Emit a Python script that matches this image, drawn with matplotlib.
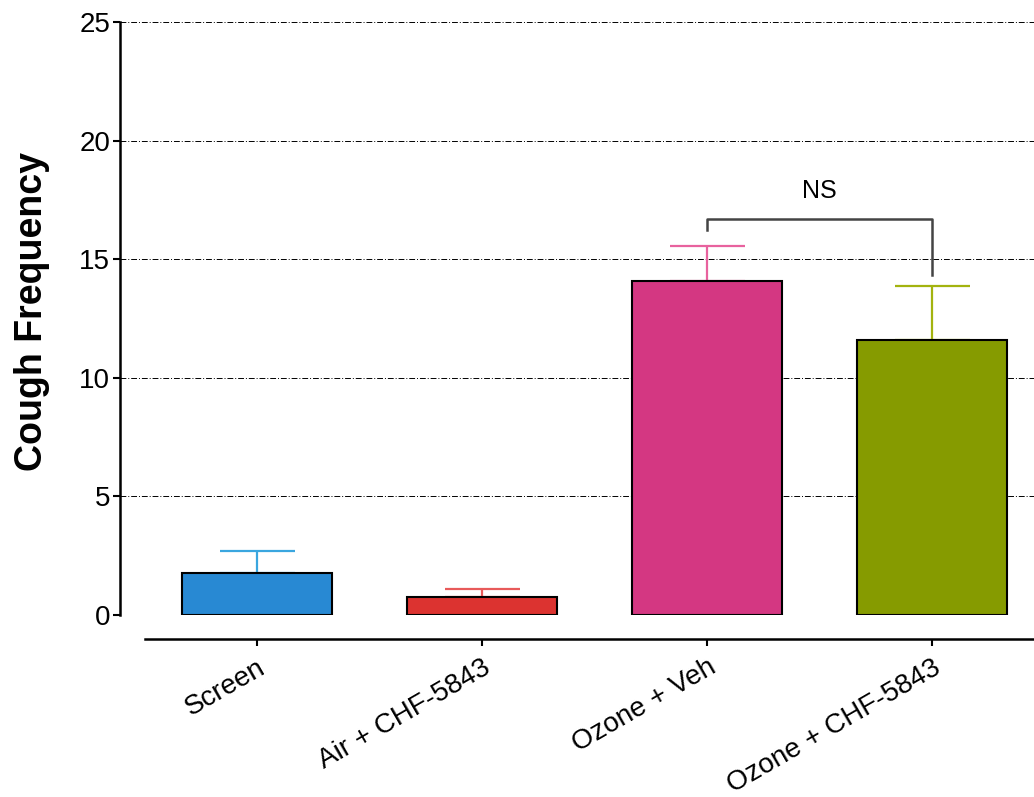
import matplotlib
matplotlib.use("Agg")
import matplotlib.pyplot as plt

categories = ["Screen", "Air + CHF-5843", "Ozone + Veh", "Ozone + CHF-5843"]
means = [1.75, 0.75, 14.1, 11.6]
errors = [0.95, 0.35, 1.45, 2.25]
bar_colors = ["#2889d3", "#dc3330", "#d43782", "#869b00"]
err_colors = ["#3aa6df", "#e85a5a", "#e8629e", "#a3b30f"]
yticks = [0, 5, 10, 15, 20, 25]
ns_label = "NS"
ns_pair = (2, 3)
ns_levels = (16.7, 16.25, 14.35)

plt.rcParams['font.family'] = ['Liberation Sans', 'DejaVu Sans']

fig = plt.figure(figsize=(10.34, 7.97), dpi=100)
ax = fig.add_axes([120/1034, (797-615)/797, (1034-120)/1034, (615-22)/797])

for s in ["top", "right"]:
    ax.spines[s].set_visible(False)
ax.spines["left"].set_linewidth(1.8)
ax.spines["bottom"].set_linewidth(1.8)
ax.spines["bottom"].set_position(("outward", 17.5))

x = list(range(len(categories)))
ax.bar(x, means, width=0.667, color=bar_colors, edgecolor="black", linewidth=1.5, zorder=3)
for xi, m, e, c in zip(x, means, errors, err_colors):
    ax.errorbar(xi, m, yerr=[[0], [e]], fmt="none", ecolor=c, elinewidth=1.6,
                capsize=27, capthick=1.6, zorder=2)

for yt in yticks:
    ax.axhline(yt, color="black", linestyle=(0, (6, 2, 1, 2)), linewidth=0.7, zorder=1)

ax.set_xlim(-0.609, 3.453)
ax.set_ylim(0, 25)
ax.spines["bottom"].set_bounds(-0.5, 3.6)
ax.set_yticks(yticks)
ax.set_xticks(x)
ax.set_xticklabels(categories, rotation=30, ha="right", va="top", rotation_mode="anchor")
ax.tick_params(axis="both", labelsize=20, width=1.5, length=5, color="black")
ax.tick_params(axis="x", pad=6)
ax.tick_params(axis="y", pad=2)

ax.set_ylabel("Cough Frequency", fontsize=27, fontweight="bold")
ax.yaxis.set_label_coords(-0.0765, 0.512)

# significance bracket
a, b = ns_pair
top, left_end, right_end = ns_levels
ax.plot([a, a, b, b], [left_end, top, top, right_end], color="#444444", linewidth=1.8,
        clip_on=False, zorder=4)
ax.text((a + b) / 2, top + 0.65, ns_label, ha="center", va="bottom", fontsize=18)

fig.savefig("out.png", dpi=100)
